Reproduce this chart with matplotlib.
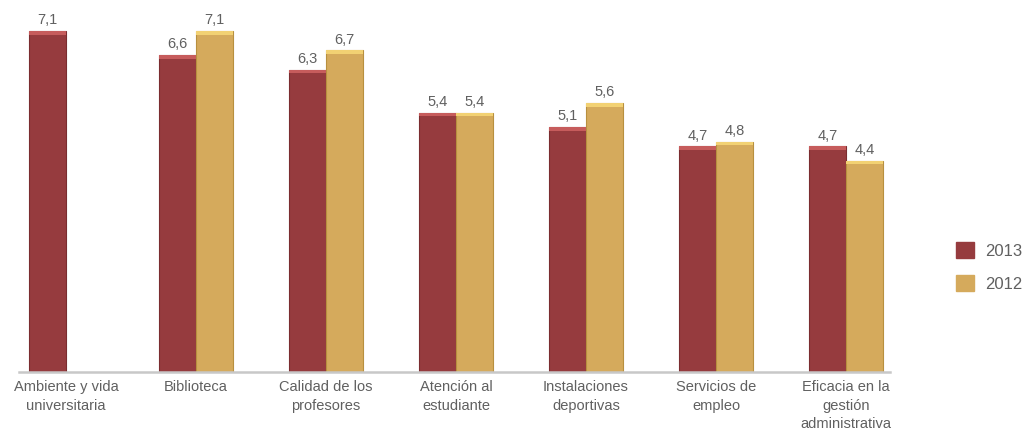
"""
Valoración de servicios universitarios - 2013 vs 2012
"""

import matplotlib
matplotlib.use("Agg")
import matplotlib.pyplot as plt
import matplotlib.patches as mpatches
import numpy as np

# Data
categories = ['Ambiente y vida\nuniversitaria', 'Biblioteca', 'Calidad de los\nprofesores',
              'Atención al\nestudiante', 'Instalaciones\ndeportivas', 'Servicios de\nempleo',
              'Eficacia en la\ngestión\nadministrativa']
values_2013 = [7.1, 6.6, 6.3, 5.4, 5.1, 4.7, 4.7]
values_2012 = [None, 7.1, 6.7, 5.4, 5.6, 4.8, 4.4]
series_labels = ['2013', '2012']

RED = '#963b3e'
GOLD = '#d5aa5c'
RED_EDGE = '#7a2c2f'
GOLD_EDGE = '#b8903f'
RED_TOP = '#c65c5c'
GOLD_TOP = '#f2d173'
TEXT = '#606060'

plt.rcParams['font.family'] = ['Liberation Sans', 'DejaVu Sans']

fig = plt.figure(figsize=(10.24, 4.31), dpi=100)
ax = fig.add_axes([19 / 1024, 58 / 431, 871 / 1024, 373 / 431])

x = np.arange(len(categories))
w = 0.285


def draw_series(xs, vals, color, edge, top):
    for xi, v in zip(xs, vals):
        if v is None:
            continue
        ax.bar(xi, v, width=w, color=color, edgecolor=edge, linewidth=0.8,
               align='edge', zorder=2)
        # light cap to hint at the bevel on top of each bar
        ax.bar(xi, 0.07, bottom=v - 0.07, width=w, color=top, edgecolor='none',
               align='edge', zorder=3)
        ax.text(xi + w / 2, v + 0.1, f'{v:.1f}'.replace('.', ','), ha='center', va='bottom',
                fontsize=10.5, color=TEXT)


draw_series(x - w, values_2013, RED, RED_EDGE, RED_TOP)
draw_series(x, values_2012, GOLD, GOLD_EDGE, GOLD_TOP)

ax.set_xlim(-0.3615, 6.338)
ax.set_ylim(0, 7.77)
ax.set_yticks([])
ax.set_xticks(x)
ax.set_xticklabels(categories, fontsize=10.5, color=TEXT, linespacing=1.42)
ax.tick_params(axis='x', length=0, pad=5)

for side in ['top', 'right', 'left']:
    ax.spines[side].set_visible(False)
ax.spines['bottom'].set_color('#c8c8c8')
ax.spines['bottom'].set_linewidth(1.8)
ax.spines['bottom'].set_zorder(4)

handles = [mpatches.Patch(color=RED, label=series_labels[0]),
           mpatches.Patch(color=GOLD, label=series_labels[1])]
fig.legend(handles=handles, loc='center left', bbox_to_anchor=(956 / 1024, 163.5 / 431),
           frameon=False, fontsize=12, labelcolor=TEXT, handlelength=1.1, handleheight=1.1,
           handletextpad=0.65, labelspacing=1.0, borderpad=0, borderaxespad=0)

plt.savefig('out.png', dpi=100)
